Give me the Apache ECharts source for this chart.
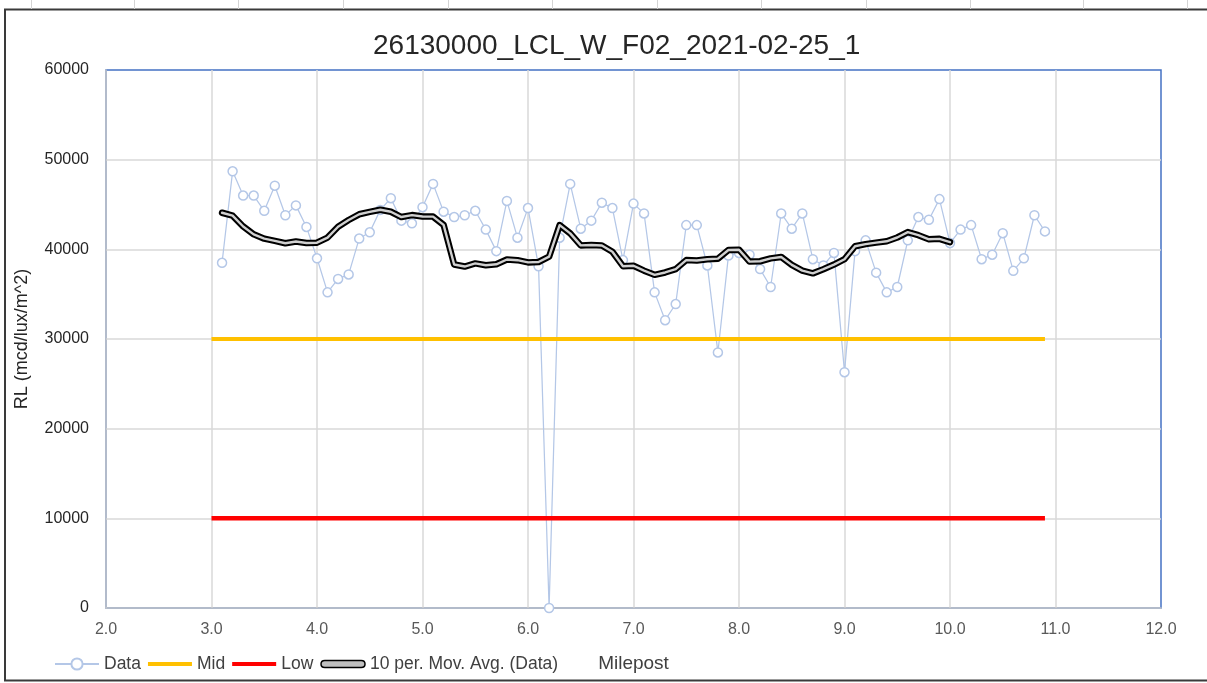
<!DOCTYPE html>
<html>
<head>
<meta charset="utf-8">
<title>26130000_LCL_W_F02_2021-02-25_1</title>
<script src="https://cdn.jsdelivr.net/npm/echarts@6/dist/echarts.min.js"></script>
<style>
  html, body { margin: 0; padding: 0; background: #fff; }
  #chart { width: 1207px; height: 683px; }
</style>
</head>
<body>
<div id="chart"></div>
<script>
// Retroreflectivity readings along the route
const chartTitle = '26130000_LCL_W_F02_2021-02-25_1';

const mileposts = [
  3.1, 3.2, 3.3, 3.4, 3.5, 3.6, 3.7, 3.8, 3.9, 4.0,
  4.1, 4.2, 4.3, 4.4, 4.5, 4.6, 4.7, 4.8, 4.9, 5.0,
  5.1, 5.2, 5.3, 5.4, 5.5, 5.6, 5.7, 5.8, 5.9, 6.0,
  6.1, 6.2, 6.3, 6.4, 6.5, 6.6, 6.7, 6.8, 6.9, 7.0,
  7.1, 7.2, 7.3, 7.4, 7.5, 7.6, 7.7, 7.8, 7.9, 8.0,
  8.1, 8.2, 8.3, 8.4, 8.5, 8.6, 8.7, 8.8, 8.9, 9.0,
  9.1, 9.2, 9.3, 9.4, 9.5, 9.6, 9.7, 9.8, 9.9, 10.0,
  10.1, 10.2, 10.3, 10.4, 10.5, 10.6, 10.7, 10.8, 10.9
];

const rlValues = [
  38500, 48700, 46000, 46000, 44300, 47100, 43800, 44900, 42500, 39000,
  35200, 36700, 37200, 41200, 41900, 44400, 45700, 43200, 42900, 44700,
  47300, 44200, 43600, 43800, 44300, 42200, 39800, 45400, 41300, 44600,
  38100, 0, 41300, 47300, 42300, 43200, 45200, 44600, 38800, 45100,
  44000, 35200, 32100, 33900, 42700, 42700, 38200, 28500, 39300, 39600,
  39400, 37800, 35800, 44000, 42300, 44000, 38900, 38200, 39600, 26300,
  39800, 41000, 37400, 35200, 35800, 41000, 43600, 43300, 45600, 40700,
  42200, 42700, 38900, 39400, 41800, 37600, 39000, 43800, 42000
];

// Threshold lines
const midLevel = 30000;
const lowLevel = 10000;
const thresholdSpan = [3.0, 10.9];

// Axis ranges
const xRange = [2, 12, 1];
const yRange = [0, 60000, 10000];

// Series names
const seriesNames = ['Data', 'Mid', 'Low', '10 per. Mov. Avg. (Data)'];

// 10-period moving average trendline of the readings
const maPeriod = 10;
const movingAvg = [];
for (let i = 0; i + maPeriod <= rlValues.length; i++) {
  let s = 0;
  for (let k = i; k < i + maPeriod; k++) s += rlValues[k];
  movingAvg.push([mileposts[i], s / maPeriod]);
}

const dataPoints = mileposts.map((m, i) => [m, rlValues[i]]);
const midLine = thresholdSpan.map(m => [m, midLevel]);
const lowLine = thresholdSpan.map(m => [m, lowLevel]);

const FONT = 'Liberation Sans';
const chart = echarts.init(document.getElementById('chart'), null, { renderer: 'canvas' });

const sheetLines = [31, 134, 238, 343, 448, 552, 657, 761, 866, 970, 1083, 1187].map(x => ({
  type: 'line', silent: true,
  shape: { x1: x + 0.5, y1: 0, x2: x + 0.5, y2: 9 },
  style: { stroke: '#d4d4d4', lineWidth: 1 }
}));

// Flat bar used as the legend swatch of the threshold lines
const barIcon = 'path://M0,0 L44,0 L44,4 L0,4 Z';

chart.setOption({
  animation: false,
  backgroundColor: '#fff',
  title: {
    text: chartTitle,
    left: 373,
    top: 32,
    padding: 0,
    textStyle: { fontFamily: FONT, fontSize: 28, fontWeight: 'normal', color: '#262626' }
  },
  grid: {
    left: 106, right: 46, top: 70, bottom: 75,
    show: true, borderColor: '#4472C4', borderWidth: 1.5, backgroundColor: '#fff'
  },
  legend: {
    left: 54, top: 655, padding: 0,
    itemWidth: 44, itemHeight: 14, itemGap: 7,
    textStyle: { fontFamily: FONT, fontSize: 17.5, color: '#404040' },
    data: [
      { name: seriesNames[0] },
      { name: seriesNames[1], icon: barIcon, itemStyle: { color: '#FFC000', borderWidth: 0 } },
      { name: seriesNames[2], icon: barIcon, itemStyle: { color: '#FF0000', borderWidth: 0 } },
      {
        name: seriesNames[3],
        icon: 'path://M4,0 L40,0 C45,0 45,7 40,7 L4,7 C-1,7 -1,0 4,0 Z',
        itemStyle: { color: '#bfbfbf', borderColor: '#000', borderWidth: 1.5 }
      }
    ]
  },
  xAxis: {
    type: 'value',
    min: xRange[0], max: xRange[1], interval: xRange[2],
    name: 'Milepost',
    nameLocation: 'middle',
    nameGap: 46,
    nameTextStyle: { fontFamily: FONT, fontSize: 19, color: '#404040' },
    axisLine: { show: true, lineStyle: { color: '#c8c8c8', width: 1.5 } },
    axisTick: { show: false },
    axisLabel: {
      fontFamily: FONT, fontSize: 16, color: '#595959', margin: 14,
      formatter: v => v.toFixed(1)
    },
    splitLine: { show: true, showMinLine: false, showMaxLine: false, lineStyle: { color: '#d9d9d9', width: 1.5 } }
  },
  yAxis: {
    type: 'value',
    min: yRange[0], max: yRange[1], interval: yRange[2],
    name: 'RL (mcd/lux/m^2)',
    nameLocation: 'middle',
    nameGap: 75,
    nameRotate: 90,
    nameTextStyle: { fontFamily: FONT, fontSize: 18, color: '#262626' },
    axisLine: { show: true, lineStyle: { color: '#c8c8c8', width: 1.5 } },
    axisTick: { show: false },
    axisLabel: { fontFamily: FONT, fontSize: 16, color: '#262626', margin: 17, formatter: v => String(v) },
    splitLine: { show: true, showMinLine: false, showMaxLine: false, lineStyle: { color: '#d9d9d9', width: 1.5 } }
  },
  series: [
    {
      name: seriesNames[0],
      type: 'line',
      data: dataPoints,
      symbol: 'circle',
      symbolSize: 9,
      showAllSymbol: true,
      itemStyle: { color: '#fff', borderColor: '#B4C7E7', borderWidth: 1.5 },
      lineStyle: { color: '#B4C7E7', width: 1.25 },
      z: 2
    },
    {
      name: seriesNames[1],
      type: 'line',
      data: midLine,
      symbol: 'none',
      itemStyle: { color: '#FFC000' },
      lineStyle: { color: '#FFC000', width: 4 },
      z: 3
    },
    {
      name: seriesNames[2],
      type: 'line',
      data: lowLine,
      symbol: 'none',
      itemStyle: { color: '#FF0000' },
      lineStyle: { color: '#FF0000', width: 4.5 },
      z: 3
    },
    {
      name: seriesNames[3],
      type: 'line',
      data: movingAvg,
      symbol: 'none',
      itemStyle: { color: '#bfbfbf' },
      lineStyle: { color: '#000', width: 6.5, join: 'round', cap: 'round' },
      z: 4
    },
    {
      name: 'maCore',
      type: 'line',
      data: movingAvg,
      symbol: 'none',
      silent: true,
      lineStyle: { color: '#d0d0d0', width: 2.4, join: 'round', cap: 'round' },
      z: 5
    }
  ],
  graphic: [
    ...sheetLines,
    {
      type: 'rect', silent: true, z: -1,
      shape: { x: 5, y: 9.5, width: 1220, height: 671 },
      style: { fill: 'none', stroke: '#3a3a3a', lineWidth: 2 }
    }
  ]
});
</script>
</body>
</html>
